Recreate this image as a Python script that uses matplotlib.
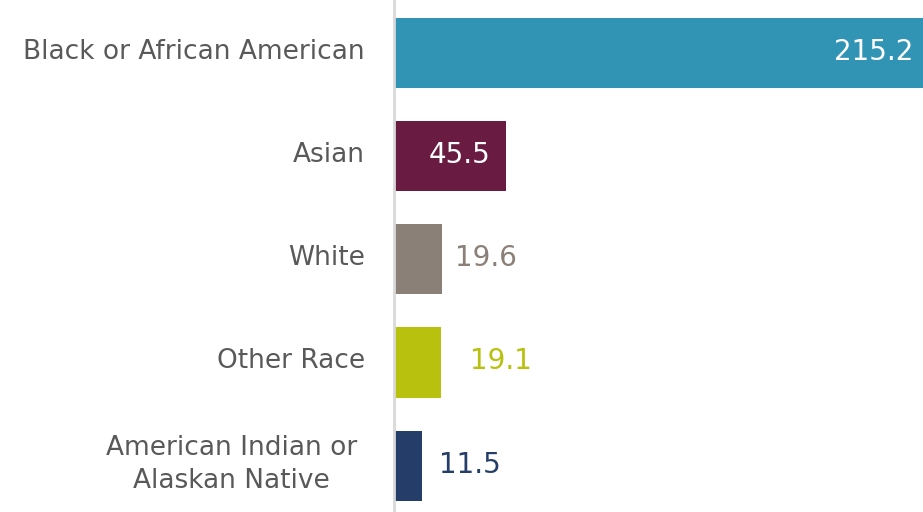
import matplotlib
matplotlib.use("Agg")
import matplotlib.pyplot as plt
import matplotlib.transforms as mtransforms

# ----------------------------
# Data
# ----------------------------
categories = ["Black or African American", "Asian", "White", "Other Race",
              "American Indian or\nAlaskan Native"]
values = [215.2, 45.5, 19.6, 19.1, 11.5]
value_labels = ["215.2", "45.5", "19.6", "19.1", "11.5"]
bar_colors = ["#3194b4", "#6a1b41", "#8b8078", "#b8c10e", "#253e69"]

# ----------------------------
# Figure
# ----------------------------
plt.rcParams['font.family'] = ['DejaVu Sans']

fig = plt.figure(figsize=(9.23, 5.12), dpi=100)
ax = fig.add_axes([394 / 923, 0, 1 - 394 / 923, 1])

ypos = list(range(len(categories)))
ax.barh(ypos, values, height=0.68, color=bar_colors, left=0)

ax.set_xlim(0, max(values))
ax.set_ylim(len(categories) - 0.55, -0.515)

for s in ["top", "right", "bottom"]:
    ax.spines[s].set_visible(False)
ax.spines["left"].set_color("#d9d9d9")
ax.spines["left"].set_linewidth(2)
ax.set_xticks([])
ax.set_yticks([])

# category labels left of the axis line
label_offsets = [-29, -29, -29, -29, -37]
for y, name, off in zip(ypos, categories, label_offsets):
    tr = mtransforms.offset_copy(ax.transData, fig=fig, x=off, y=1, units="dots")
    ax.text(0, y, name, transform=tr, ha="right", va="center",
            multialignment="center", fontsize=19, color="#595959",
            linespacing=1.35)

# value labels: inside for the wide bars, outside for short ones
inside = [True, True, False, False, False]
val_offsets = [-10, -15, 13, 29, 17]
for y, v, lab, c, ins, off in zip(ypos, values, value_labels, bar_colors, inside, val_offsets):
    tr = mtransforms.offset_copy(ax.transData, fig=fig, x=off, y=1, units="dots")
    ax.text(v, y, lab, transform=tr, ha="right" if ins else "left", va="center",
            fontsize=20, color="white" if ins else c)

fig.savefig("out.png", dpi=100)
